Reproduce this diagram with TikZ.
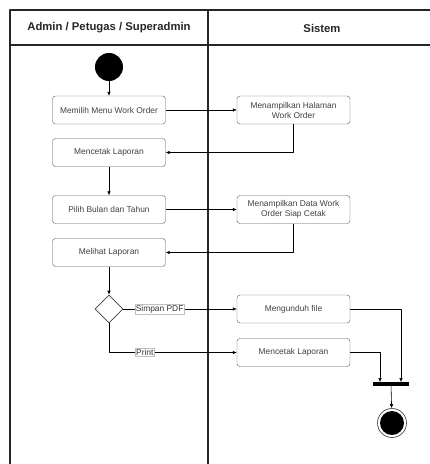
\documentclass[tikz,border=0pt]{standalone}
\usepackage{fontspec}
\setmainfont{Liberation Sans}
\usetikzlibrary{shapes.geometric,arrows.meta}

\tikzset{
	activity/.style={draw=black!65, rounded corners=3pt, minimum width=113pt, minimum height=28pt,
		inner sep=1pt, align=center, text=black!75, font=\fontsize{8.4}{10}\selectfont},
	flow/.style={-{Latex[length=4pt,width=3.6pt]}, line width=0.6pt},
	guardlabel/.style={fill=white, draw=black!25, line width=0.3pt, inner sep=0.8pt,
		text=black!80, font=\fontsize{8.4}{9}\selectfont},
	lanetitle/.style={font=\bfseries\fontsize{11.3}{13}\selectfont, text=black!85}
}

\begin{document}
\begin{tikzpicture}
	[
		x=1pt,
		y=-1pt,
		line join=round
	]
		\useasboundingbox (0,0) rectangle (430,464);
		\clip (0,0) rectangle (430,464);
		% swimlanes
		\draw [line width=1.4pt, color=black!85] (10,480) -- (10,10) -- (450,10);
		\draw [line width=1.4pt, color=black!85] (10,45) -- (450,45);
		\draw [line width=1.4pt, color=black!85] (208,10) -- (208,480);
		\node [lanetitle] (laneuser) at (109,28) {Admin / Petugas / Superadmin};
		\node [lanetitle] (lanesys) at (322,28) {Sistem};

		% nodes
		\node [circle, fill=black, minimum size=28pt, inner sep=0pt] (start) at (109,67) {};
		\node [activity] (pilihmenu) at (109,110) {Memilih Menu Work Order};
		\node [activity] (tampilhal) at (293.5,110) {Menampilkan Halaman\\Work Order};
		\node [activity] (cetak) at (109,152.5) {Mencetak Laporan};
		\node [activity] (pilihbulan) at (109,209.5) {Pilih Bulan dan Tahun};
		\node [activity] (tampildata) at (293.5,209.5) {Menampilkan Data Work\\Order Siap Cetak};
		\node [activity] (lihat) at (109,252.5) {Melihat Laporan};
		\node [diamond, draw=black!75, line width=0.6pt, minimum size=28pt, inner sep=0pt] (pilihan) at (109,309) {};
		\node [activity] (unduh) at (293.5,309) {Mengunduh file};
		\node [activity] (cetakfile) at (293.5,352.5) {Mencetak Laporan};
		\node [fill=black, minimum width=36pt, minimum height=3.5pt, inner sep=0pt] (join) at (391,384) {};
		\node [circle, draw=black!80, line width=0.6pt, minimum size=29pt, inner sep=0pt] (end) at (392,423) {};
		\fill [black] (end.center) circle (12pt);

		% connectors
		\draw [flow] (start) -- (pilihmenu);
		\draw [flow] (pilihmenu) -- (tampilhal);
		\draw [flow] (tampilhal.south) |- (cetak.east);
		\draw [flow] (cetak) -- (pilihbulan);
		\draw [flow] (pilihbulan) -- (tampildata);
		\draw [flow] (tampildata.south) |- (lihat.east);
		\draw [flow] (lihat) -- (pilihan);
		\draw [flow] (pilihan.east) -- node [guardlabel, pos=0.32] {Simpan PDF} (unduh.west);
		\draw [flow] (pilihan.south) |- node [guardlabel, pos=0.64] {Print} (cetakfile.west);
		\draw [flow] (unduh.east) -| ([xshift=10pt]join.north);
		\draw [flow] (cetakfile.east) -| ([xshift=-11pt]join.north);
		\draw [flow] (join) -- (end);
	\end{tikzpicture}
\end{document}
